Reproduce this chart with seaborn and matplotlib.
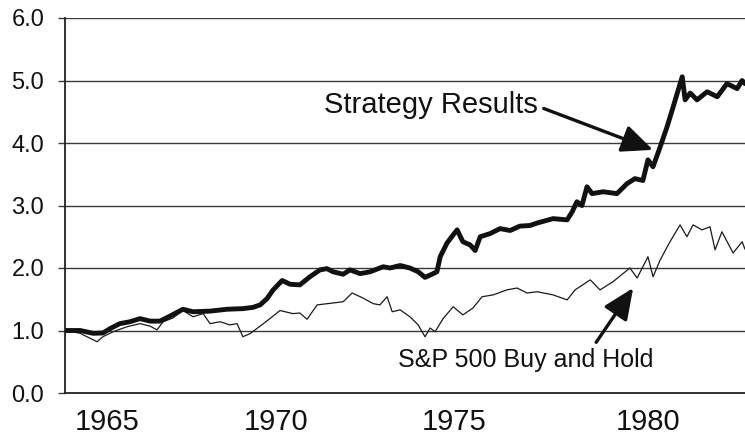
import matplotlib
matplotlib.use("Agg")
import matplotlib.pyplot as plt
import pandas as pd
import seaborn as sns

# Strategy equity curve (decimal year, growth of $1)
strategy_year = [1963.84, 1964.26, 1964.62, 1964.89, 1965.09, 1965.36, 1965.64, 1965.92,
                 1966.20, 1966.47, 1966.75, 1967.11, 1967.39, 1967.86, 1968.33, 1968.77,
                 1969.05, 1969.25, 1969.44, 1969.61, 1969.86, 1970.08, 1970.35, 1970.63,
                 1970.91, 1971.10, 1971.27, 1971.55, 1971.74, 1972.02, 1972.30, 1972.66,
                 1972.85, 1973.13, 1973.40, 1973.63, 1973.82, 1974.01, 1974.15, 1974.24,
                 1974.43, 1974.60, 1974.71, 1974.87, 1975.07, 1975.21, 1975.35, 1975.62,
                 1975.90, 1976.18, 1976.45, 1976.73, 1976.93, 1977.37, 1977.76, 1977.90,
                 1978.03, 1978.17, 1978.31, 1978.45, 1978.76, 1979.14, 1979.42, 1979.64,
                 1979.86, 1980.00, 1980.14, 1980.34, 1980.53, 1980.70, 1980.84, 1980.95,
                 1981.03, 1981.17, 1981.36, 1981.64, 1981.92, 1982.19, 1982.47, 1982.61,
                 1982.69]
strategy_value = [1.00, 1.00, 0.955, 0.96, 1.03, 1.11, 1.14, 1.19,
                  1.15, 1.15, 1.23, 1.34, 1.30, 1.31, 1.34, 1.35,
                  1.37, 1.41, 1.51, 1.65, 1.80, 1.74, 1.73, 1.86,
                  1.97, 1.99, 1.94, 1.90, 1.97, 1.91, 1.94, 2.02,
                  2.00, 2.04, 2.00, 1.94, 1.85, 1.90, 1.94, 2.18,
                  2.40, 2.53, 2.61, 2.42, 2.37, 2.28, 2.50, 2.55,
                  2.63, 2.60, 2.67, 2.68, 2.72, 2.79, 2.77, 2.90,
                  3.06, 3.00, 3.30, 3.19, 3.22, 3.19, 3.35, 3.43,
                  3.40, 3.73, 3.62, 3.94, 4.26, 4.58, 4.85, 5.06,
                  4.69, 4.80, 4.69, 4.82, 4.74, 4.95, 4.87, 5.00,
                  4.95]

# S&P 500 buy-and-hold curve (decimal year, growth of $1)
spx_year = [1963.84, 1964.26, 1964.45, 1964.73, 1964.89, 1965.17, 1965.56, 1965.92,
            1966.20, 1966.39, 1966.56, 1966.83, 1967.11, 1967.39, 1967.67, 1967.86,
            1968.14, 1968.41, 1968.61, 1968.77, 1968.97, 1969.25, 1969.52, 1969.80,
            1970.16, 1970.35, 1970.55, 1970.83, 1971.27, 1971.55, 1971.80, 1972.10,
            1972.38, 1972.57, 1972.77, 1972.91, 1973.13, 1973.40, 1973.63, 1973.82,
            1973.96, 1974.10, 1974.32, 1974.60, 1974.87, 1975.15, 1975.40, 1975.71,
            1976.09, 1976.37, 1976.65, 1976.93, 1977.37, 1977.76, 1977.98, 1978.40,
            1978.67, 1979.03, 1979.50, 1979.70, 1980.00, 1980.14, 1980.34, 1980.61,
            1980.89, 1981.08, 1981.25, 1981.50, 1981.72, 1981.86, 1982.05, 1982.36,
            1982.61, 1982.69]
spx_value = [1.00, 0.955, 0.90, 0.82, 0.90, 0.98, 1.06, 1.11,
             1.07, 1.01, 1.14, 1.20, 1.32, 1.22, 1.27, 1.11,
             1.14, 1.09, 1.11, 0.90, 0.95, 1.07, 1.19, 1.32,
             1.27, 1.28, 1.18, 1.41, 1.44, 1.46, 1.60, 1.52,
             1.43, 1.41, 1.54, 1.30, 1.33, 1.22, 1.09, 0.90,
             1.04, 0.98, 1.19, 1.38, 1.25, 1.36, 1.54, 1.57,
             1.65, 1.68, 1.60, 1.62, 1.57, 1.49, 1.65, 1.81,
             1.65, 1.78, 2.00, 1.84, 2.18, 1.86, 2.13, 2.42,
             2.69, 2.50, 2.69, 2.61, 2.66, 2.29, 2.58, 2.24,
             2.42, 2.30]

# Year labels and where they sit on the time axis
year_labels = ["1965", "1970", "1975", "1980"]
year_label_pos = [1965.00, 1969.69, 1974.62, 1980.00]
y_ticks = [0, 1, 2, 3, 4, 5, 6]

strategy_df = pd.DataFrame({"year": strategy_year, "value": strategy_value})
spx_df = pd.DataFrame({"year": spx_year, "value": spx_value})

sns.set_theme(style="white")
plt.rcParams["font.family"] = ["Liberation Sans", "DejaVu Sans"]

fig = plt.figure(figsize=(7.45, 4.38), dpi=100)
ax = fig.add_axes([65 / 745, 45 / 438, 680 / 745, 375 / 438])

for y in y_ticks[1:]:
    ax.axhline(y, color="#3a3a3a", lw=1.0, zorder=1)

sns.lineplot(data=spx_df, x="year", y="value", ax=ax, color="#1a1a1a",
             lw=0.9, estimator=None, sort=False, zorder=3)
sns.lineplot(data=strategy_df, x="year", y="value", ax=ax, color="#111111",
             lw=3.5, estimator=None, sort=False, zorder=4)

ax.set_xlim(strategy_year[0], strategy_year[-1])
ax.set_ylim(0, 6)
ax.set_yticks(y_ticks)
ax.set_yticklabels([f"{v:.1f}" for v in y_ticks], fontsize=17, color="#111111")
ax.set_xticks(year_label_pos)
ax.set_xticklabels(year_labels, fontsize=21, color="#111111")
ax.tick_params(axis="y", length=5, width=1.0, color="#3a3a3a", pad=10, left=True)
ax.tick_params(axis="x", length=0, pad=11)
ax.set_xlabel("")
ax.set_ylabel("")

for side in ("top", "right"):
    ax.spines[side].set_visible(False)
for side in ("left", "bottom"):
    ax.spines[side].set_color("#222222")
    ax.spines[side].set_linewidth(1.3)
ax.spines["left"].set_zorder(5)

arrow = dict(arrowstyle="-|>,head_length=0.95,head_width=0.42", color="#111111",
             lw=2.4, shrinkA=2, shrinkB=0, mutation_scale=20)
ax.annotate("Strategy Results", xy=(1980.14, 3.89), xytext=(1971.02, 4.61),
            fontsize=21, color="#111111", ha="left", va="center",
            arrowprops=dict(arrow, relpos=(1.0, 0.45)), zorder=6)
ax.annotate("S&P 500 Buy and Hold", xy=(1979.59, 1.68), xytext=(1973.07, 0.53),
            fontsize=18, color="#111111", ha="left", va="center",
            arrowprops=dict(arrow, relpos=(0.755, 0.9)), zorder=6)

fig.savefig("out.png", dpi=100)
